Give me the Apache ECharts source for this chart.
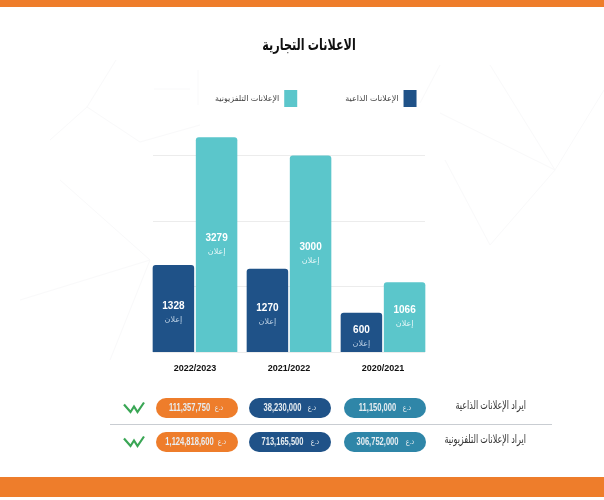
<!DOCTYPE html>
<html><head><meta charset="utf-8">
<style>html,body{margin:0;padding:0;background:#fff}#c{width:604px;height:500px}</style>
<script src="https://cdn.jsdelivr.net/npm/echarts@6/dist/echarts.min.js"></script>
</head><body><div id="c"></div>
<script>
const categories = ['2022/2023','2021/2022','2020/2021'];
const radioAds = [1328,1270,600];
const tvAds = [3279,3000,1066];
const radioName = 'الإعلانات الذاعية';
const tvName = 'الإعلانات التلفزيونية';
const adWord = 'إعلان';
const currency = 'د.ع';
const radioRevenue = ['111,357,750','38,230,000','11,150,000'];
const tvRevenue = ['1,124,818,600','713,165,500','306,752,000'];
const rowLabels = ['ايراد الإعلانات الذاعية','ايراد الإعلانات التلفزيونية'];
const titleText = 'الاعلانات التجارية';
const axisMax = 4000;

const font = '"Liberation Sans","Noto Sans","DejaVu Sans",sans-serif';
const ORANGE='#ee7d2b', NAVY='#1f5288', TEAL='#5bc6cb', PILLTEAL='#2f86a8';
const pillColors=[ORANGE,NAVY,PILLTEAL];
const pillX=[156,249,344];
const pillW=82, pillH=20;
const rowY=[398,432];
const currencyInset=[19,16];

function pill(x,y,color,val,inset){
  return [
   {type:'rect',shape:{x:x,y:y,width:pillW,height:pillH,r:10},style:{fill:color},z:5},
   {type:'text',x:x+pillW/2-7.5,y:y+pillH/2,scaleX:0.72,style:{text:val,fill:'#e8eef2',font:'bold 10.5px '+font,align:'center',verticalAlign:'middle'},z:6},
   {type:'text',x:x+pillW-inset,y:y+pillH/2,scaleX:0.8,style:{text:currency,fill:'#e8eef2',font:'8px '+font,align:'center',verticalAlign:'middle'},z:6}
  ];
}
const g=[];
const lattice=[[[116,60],[87,107],[50,140]],[[87,107],[140,142],[200,125]],[[154,89],[190,89]],[[198,70],[198,105]],
 [[490,65],[555,170],[440,113]],[[555,170],[490,245],[445,160]],[[420,103],[440,65]],[[555,170],[604,90]],[[60,180],[150,260],[20,300]],[[150,260],[110,360]]];
lattice.forEach(p=>g.push({type:'polyline',shape:{points:p},style:{stroke:'#f9f9fa',lineWidth:1,fill:null},z:-1,silent:true}));
g.push({type:'rect',shape:{x:0,y:0,width:604,height:7},style:{fill:ORANGE}});
g.push({type:'rect',shape:{x:0,y:477,width:604,height:20},style:{fill:ORANGE}});
g.push({type:'line',shape:{x1:110,y1:424.5,x2:552,y2:424.5},style:{stroke:'#c9cdd2',lineWidth:1}});
g.push({type:'text',x:309,y:46,scaleX:0.7,style:{text:titleText,fill:'#111',font:'bold 16px '+font,align:'center',verticalAlign:'middle'}});
[radioRevenue,tvRevenue].forEach((row,r)=>{
  row.forEach((v,i)=>g.push(...pill(pillX[i],rowY[r],pillColors[i],v,currencyInset[r])));
  g.push({type:'text',x:526,y:rowY[r]+8,scaleX:0.67,style:{text:rowLabels[r],fill:'#333',font:'12px '+font,align:'right',verticalAlign:'middle'}});
  const y=rowY[r]+4.5;
  g.push({type:'polyline',shape:{points:[[124,y+2],[130.5,y+9.5],[134,y+4],[137.5,y+9.5],[144,y]]},style:{stroke:'#3aa655',lineWidth:2.2,fill:null}});
});

const lbl=(col,dy)=>({show:true,position:'inside',offset:[0,dy],
  formatter:p=>'{a|'+p.value+'}\n{b|'+adWord+'}',
  rich:{a:{color:'#fff',fontWeight:'bold',fontSize:10,fontFamily:font,lineHeight:14},
        b:{color:col,fontSize:8,fontFamily:font,lineHeight:13}}});
const chart=echarts.init(document.getElementById('c'),null,{renderer:'canvas'});
chart.setOption({
  animation:false,backgroundColor:'#fff',
  legend:{data:[tvName,radioName],left:210,top:85,itemWidth:13,itemHeight:17,itemGap:48,align:'right',icon:'rect',
    textStyle:{fontFamily:font,fontSize:8,color:'#444'}},
  grid:[{left:148,top:90,width:282,height:262},{left:153,top:90,width:272,height:262}],
  xAxis:[{type:'category',gridIndex:0,data:categories,axisTick:{show:false},axisLine:{show:false},
    axisLabel:{color:'#111',fontWeight:'bold',fontSize:9,fontFamily:font,margin:12}},
   {type:'category',gridIndex:1,show:false,data:categories}],
  yAxis:[{type:'value',gridIndex:0,min:0,max:axisMax,interval:1000,show:false,splitLine:{show:false}},
   {type:'value',gridIndex:1,min:0,max:axisMax,interval:1000,axisLabel:{show:false},axisLine:{show:false},axisTick:{show:false},
    splitLine:{show:true,showMaxLine:false,lineStyle:{color:'#ececec',width:1}}}],
  series:[
   {name:radioName,type:'bar',xAxisIndex:0,yAxisIndex:0,data:radioAds,barWidth:41.5,barGap:'4%',
    itemStyle:{color:NAVY,borderRadius:[3,3,0,0]},label:lbl('#bcd0e4',4),z:3},
   {name:tvName,type:'bar',xAxisIndex:0,yAxisIndex:0,data:tvAds,barWidth:41.5,barGap:'4%',
    itemStyle:{color:TEAL,borderRadius:[3,3,0,0]},label:lbl('#e6f7f8',0),z:3}
  ],
  graphic:g
});
</script></body></html>
